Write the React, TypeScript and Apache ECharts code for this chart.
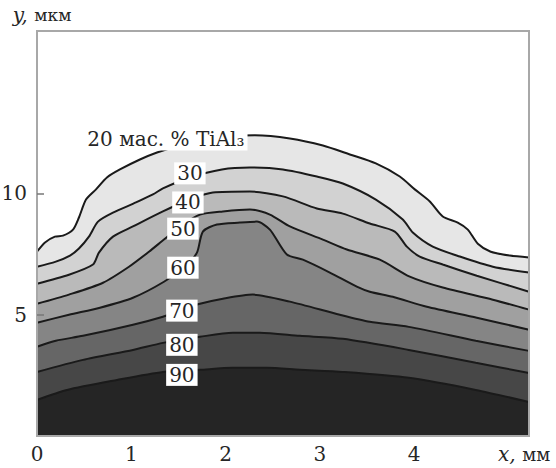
import { useEffect, useRef } from 'react';
import * as echarts from 'echarts';

// Contour lines: [x (mm), y (µm)]
const contour20: [number, number][] = [
  [0, 7.6], [0.085, 7.98], [0.19, 8.22], [0.276, 8.26], [0.382, 8.51], [0.445, 9.01], [0.52, 9.75],
  [0.626, 10.17], [0.742, 10.66], [0.88, 10.99], [1.092, 11.4], [1.273, 11.69], [1.516, 11.98],
  [1.78, 12.23], [2.047, 12.36], [2.312, 12.4], [2.683, 12.27], [3.033, 11.98], [3.319, 11.61],
  [3.595, 11.24], [3.849, 10.7], [4.008, 10.17], [4.168, 9.67], [4.305, 9.05], [4.464, 8.8],
  [4.571, 8.51], [4.677, 7.93], [4.814, 7.6], [5.016, 7.44], [5.22, 7.36],
];
const contour30: [number, number][] = [
  [0, 6.98], [0.2, 7.19], [0.35, 7.44], [0.445, 7.73], [0.551, 8.22], [0.647, 8.84], [0.806, 9.21],
  [1.05, 9.63], [1.23, 9.96], [1.336, 10.21], [1.622, 10.66], [1.962, 10.99], [2.259, 11.07],
  [2.609, 10.99], [2.969, 10.7], [3.245, 10.41], [3.595, 9.75], [3.881, 8.93], [3.987, 8.39],
  [4.199, 7.81], [4.486, 7.4], [4.836, 6.98], [5.22, 6.74],
];
const contour40: [number, number][] = [
  [0, 6.28], [0.339, 6.65], [0.594, 7.07], [0.657, 7.56], [0.806, 8.22], [1.018, 8.64], [1.336, 9.26],
  [1.622, 9.75], [1.866, 10.04], [2.259, 10.08], [2.609, 9.88], [2.969, 9.38], [3.245, 9.17],
  [3.531, 8.76], [3.796, 8.43], [3.924, 7.81], [4.061, 7.4], [4.305, 7.07], [4.666, 6.61], [5.22, 5.95],
];
const contour50: [number, number][] = [
  [0, 5.45], [0.339, 5.83], [0.7, 6.32], [0.976, 6.98], [1.188, 7.6], [1.347, 8.1], [1.548, 8.72],
  [1.729, 9.13], [1.972, 9.26], [2.259, 9.34], [2.471, 9.13], [2.683, 8.64], [3.033, 8.1],
  [3.287, 7.69], [3.637, 7.27], [3.955, 6.57], [4.305, 6.12], [4.836, 5.62], [5.22, 5.21],
];
const contour60: [number, number][] = [
  [0, 4.67], [0.339, 5.0], [0.668, 5.29], [1.018, 5.7], [1.347, 6.36], [1.569, 6.98], [1.697, 7.56],
  [1.76, 8.43], [1.909, 8.72], [2.153, 8.8], [2.333, 8.84], [2.471, 8.51], [2.651, 7.48], [2.821, 7.27],
  [3.107, 6.74], [3.393, 6.16], [3.531, 5.95], [3.775, 5.74], [4.136, 5.33], [4.666, 4.88], [5.22, 4.38],
];
const contour70: [number, number][] = [
  [0, 3.68], [0.2, 3.93], [0.488, 4.13], [1.018, 4.59], [1.336, 4.92], [1.548, 5.21], [1.729, 5.45],
  [1.972, 5.66], [2.29, 5.83], [2.683, 5.54], [3.213, 5.0], [3.531, 4.71], [3.945, 4.5], [4.655, 3.93],
  [5.22, 3.51],
];
const contour80: [number, number][] = [
  [0, 2.64], [0.488, 3.14], [1.018, 3.55], [1.336, 3.84], [1.729, 4.09], [2.078, 4.26], [2.365, 4.26],
  [2.789, 4.13], [3.245, 4.01], [3.945, 3.55], [4.655, 3.02], [5.22, 2.6],
];
const contour90: [number, number][] = [
  [0, 1.49], [0.318, 1.9], [0.848, 2.31], [1.336, 2.64], [1.729, 2.73], [2.078, 2.81], [2.439, 2.81],
  [2.789, 2.73], [3.245, 2.64], [3.945, 2.4], [4.655, 1.9], [5.22, 1.4],
];

const levels = [20, 30, 40, 50, 60, 70, 80, 90];
const contours = [contour20, contour30, contour40, contour50, contour60, contour70, contour80, contour90];

// Level labels and where they sit (data coordinates)
const labelTexts = ['20 мас. % TiAl₃', '30', '40', '50', '60', '70', '80', '90'];
const labelX = [1.368, 1.622, 1.601, 1.548, 1.548, 1.537, 1.537, 1.537];
const labelY = [12.23, 10.83, 9.63, 8.55, 6.94, 5.17, 3.76, 2.52];

const xTicks = [0, 1, 2, 3, 4];
const yTicks = [5, 10];
const xMax = 5.22;
const yMax = 16.7;

const bandColors = ['#e6e6e6', '#d2d2d2', '#bababa', '#a0a0a0', '#858585', '#666666', '#474747', '#252525'];
const FONT = "'DejaVu Serif', 'Liberation Serif', serif";
const TEXT = '#262626';

export default function App() {
  const ref = useRef<HTMLDivElement>(null);
  useEffect(() => {
    if (!ref.current) return;
    const chart = echarts.init(ref.current, undefined, { renderer: 'svg' });
    const lineSeries: any[] = contours.map((c, i) => ({
      type: 'line',
      name: String(levels[i]),
      data: c,
      symbol: 'none',
      showSymbol: false,
      smooth: 0.25,
      lineStyle: { color: '#1a1a1a', width: 2 },
      areaStyle: { color: bandColors[i], opacity: 1, origin: 'start' },
      silent: true,
      z: 2,
    }));
    const labelSeries = {
      type: 'scatter',
      data: labelTexts.map((t, i) => [labelX[i], labelY[i], t]),
      symbolSize: 1,
      itemStyle: { color: '#ffffff', opacity: 1 },
      silent: true,
      z: 6,
      label: {
        show: true,
        position: 'inside',
        formatter: (p: any) => p.data[2],
        backgroundColor: '#ffffff',
        opacity: 1,
        padding: [2, 3, 0, 3],
        color: TEXT,
        fontFamily: FONT,
        fontSize: 20,
      },
    };
    chart.setOption({
      animation: false,
      backgroundColor: '#ffffff',
      grid: {
        left: 37,
        right: 27,
        top: 31,
        bottom: 32,
        containLabel: false,
        outerBoundsMode: 'none',
        show: true,
        z: 10,
        backgroundColor: 'transparent',
        borderColor: '#a8a8a8',
        borderWidth: 2,
      },
      xAxis: {
        type: 'value',
        min: 0,
        max: xMax,
        name: '{i|x,}  {n|мм}',
        nameLocation: 'end',
        nameGap: -31,
        nameTextStyle: {
          align: 'left',
          verticalAlign: 'top',
          padding: [8, 0, 0, 0],
          rich: {
            i: { fontFamily: FONT, fontStyle: 'italic', fontSize: 20, color: TEXT },
            n: { fontFamily: FONT, fontSize: 18, color: TEXT },
          },
        },
        axisLine: { show: false },
        axisTick: { show: false },
        splitLine: { show: false },
        axisLabel: {
          customValues: xTicks,
          margin: 8,
          fontFamily: FONT,
          fontSize: 20,
          color: TEXT,
        },
      },
      yAxis: {
        type: 'value',
        min: 0,
        max: yMax,
        z: 10,
        name: '{i|y,}  {n|мкм}',
        nameLocation: 'end',
        nameGap: 6,
        nameTextStyle: {
          align: 'center',
          padding: [0, 0, 0, 10],
          rich: {
            i: { fontFamily: FONT, fontStyle: 'italic', fontSize: 20, color: TEXT },
            n: { fontFamily: FONT, fontSize: 17, color: TEXT },
          },
        },
        axisLine: { show: false },
        axisTick: { show: true, inside: true, length: 7, customValues: yTicks, lineStyle: { color: '#777', width: 1.5 } },
        splitLine: { show: false },
        axisLabel: {
          customValues: yTicks,
          margin: 10,
          fontFamily: FONT,
          fontSize: 20,
          color: TEXT,
        },
      },
      series: [...lineSeries, labelSeries],
    });
    return () => chart.dispose();
  }, []);
  return (
    <div
      ref={ref}
      style={{ position: 'fixed', left: 0, top: 0, width: 556, height: 468 }}
    />
  );
}
